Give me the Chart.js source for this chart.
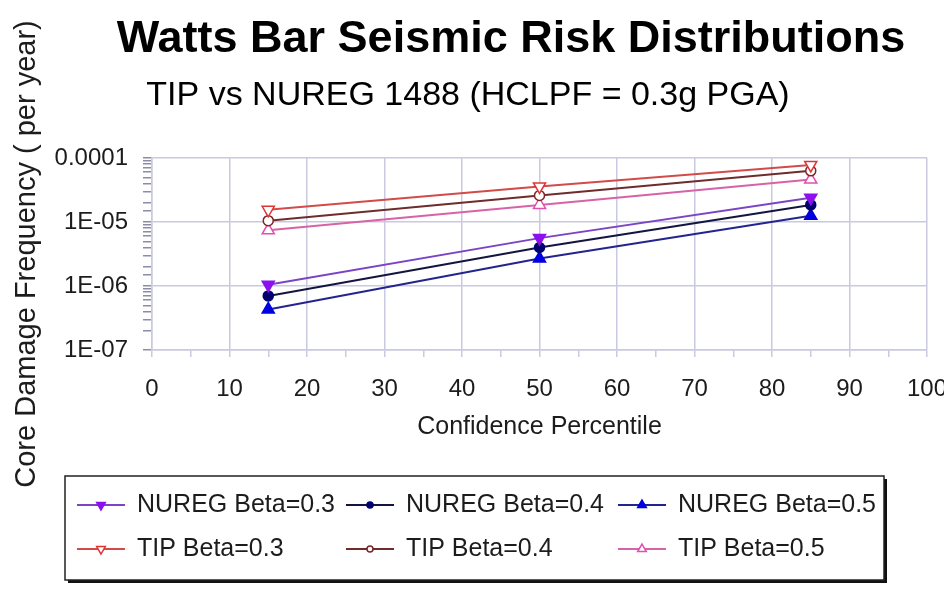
<!DOCTYPE html>
<html>
<head>
<meta charset="utf-8">
<title>Watts Bar Seismic Risk Distributions</title>
<script src="https://cdn.jsdelivr.net/npm/chart.js@4.4.1/dist/chart.umd.min.js"></script>
<style>
    html, body { margin: 0; padding: 0; background: #fff; }
    #wrap { width: 944px; height: 594px; }
</style>
</head>
<body>
<div id="wrap"><canvas id="riskChart" width="944" height="594"></canvas></div>
<script>
/* ==========================================
   Data
========================================== */

const percentiles = [15, 50, 85];

const nuregBeta03 = [1.05e-6, 5.6e-6, 2.4e-5];
const nuregBeta04 = [7.0e-7, 4.0e-6, 1.85e-5];
const nuregBeta05 = [4.3e-7, 2.7e-6, 1.25e-5];

const tipBeta03 = [1.55e-5, 3.6e-5, 7.8e-5];
const tipBeta04 = [1.05e-5, 2.6e-5, 6.3e-5];
const tipBeta05 = [7.4e-6, 1.85e-5, 4.6e-5];

const seriesNames = [
    "NUREG Beta=0.3",
    "NUREG Beta=0.4",
    "NUREG Beta=0.5",
    "TIP Beta=0.3",
    "TIP Beta=0.4",
    "TIP Beta=0.5"
];

const decadeExponents = [-7, -6, -5, -4];
const yTickLabels = ["1E-07", "1E-06", "1E-05", "0.0001"];

const chartTitle = "Watts Bar Seismic Risk Distributions";
const chartSubtitle = "TIP vs NUREG 1488 (HCLPF = 0.3g PGA)";
const xTitle = "Confidence Percentile";
const yTitle = "Core Damage Frequency ( per year)";

/* ==========================================
   Styles
========================================== */

const fontFamily = "'Liberation Sans', Arial, sans-serif";
const textColor = "#1c1c1c";
const gridColor = "#c9c9e2";
const tickColor = "#8c8ca6";

const seriesStyles = [
    { line: "#7b44c4", point: "#8c10ee", fill: "#8c10ee", shape: "triangle", rotation: 180, radius: 7 },
    { line: "#141440", point: "#000070", fill: "#000070", shape: "circle", rotation: 0, radius: 5 },
    { line: "#24248e", point: "#0000e0", fill: "#0000e0", shape: "triangle", rotation: 0, radius: 7 },
    { line: "#d24a4a", point: "#e03434", fill: "#ffffff", shape: "triangle", rotation: 180, radius: 7 },
    { line: "#6e2c2c", point: "#802424", fill: "#ffffff", shape: "circle", rotation: 0, radius: 5 },
    { line: "#d862a8", point: "#e050b0", fill: "#ffffff", shape: "triangle", rotation: 0, radius: 7 }
];

const seriesValues = [nuregBeta03, nuregBeta04, nuregBeta05, tipBeta03, tipBeta04, tipBeta05];

function isDecade(v) {
    const e = Math.log10(v);
    return Math.abs(e - Math.round(e)) < 1e-6;
}

/* ==========================================
   Title + boxed legend
========================================== */

const headerPlugin = {
    id: "header",
    afterDraw(chart) {
        const ctx = chart.ctx;
        ctx.save();
        ctx.fillStyle = "#000";
        ctx.textAlign = "center";
        ctx.textBaseline = "middle";
        ctx.font = "bold 45px " + fontFamily;
        ctx.fillText(chartTitle, 511, 40);
        ctx.font = "34px " + fontFamily;
        ctx.fillText(chartSubtitle, 468, 96);
        ctx.restore();
    }
};

const legendBoxPlugin = {
    id: "legendBox",
    afterDraw(chart) {
        const ctx = chart.ctx;
        const box = { left: 65, top: 476, width: 819, height: 104 };
        const columnX = [77, 346, 618];
        const rowY = [505, 549];

        ctx.save();
        ctx.fillStyle = "#111";
        ctx.fillRect(box.left + 3, box.top + 3, box.width, box.height);
        ctx.fillStyle = "#fff";
        ctx.fillRect(box.left, box.top, box.width, box.height);
        ctx.strokeStyle = "#222";
        ctx.lineWidth = 1.5;
        ctx.strokeRect(box.left, box.top, box.width, box.height);

        chart.data.datasets.forEach((ds, i) => {
            const x = columnX[i % 3];
            const y = rowY[Math.floor(i / 3)];

            ctx.strokeStyle = ds.borderColor;
            ctx.lineWidth = 2;
            ctx.beginPath();
            ctx.moveTo(x, y);
            ctx.lineTo(x + 48, y);
            ctx.stroke();

            ctx.fillStyle = ds.pointBackgroundColor;
            ctx.strokeStyle = ds.pointBorderColor;
            ctx.lineWidth = 1.5;
            Chart.helpers.drawPoint(ctx, {
                pointStyle: ds.pointStyle,
                rotation: ds.pointRotation,
                radius: ds.pointRadius - 2,
                borderWidth: 1.5
            }, x + 24, y);

            ctx.fillStyle = textColor;
            ctx.font = "25px " + fontFamily;
            ctx.textAlign = "left";
            ctx.textBaseline = "middle";
            ctx.fillText(ds.label, x + 60, y);
        });
        ctx.restore();
    }
};

/* ==========================================
   Chart
========================================== */

Chart.defaults.font.family = fontFamily;
Chart.defaults.color = textColor;

const ctx = document.getElementById("riskChart").getContext("2d");

new Chart(ctx, {

    type: "line",

    data: {
        datasets: seriesNames.map((name, i) => ({
            label: name,
            data: percentiles.map((p, j) => ({ x: p, y: seriesValues[i][j] })),
            borderColor: seriesStyles[i].line,
            borderWidth: 2,
            pointStyle: seriesStyles[i].shape,
            pointRotation: seriesStyles[i].rotation,
            pointRadius: seriesStyles[i].radius,
            pointBorderColor: seriesStyles[i].point,
            pointBackgroundColor: seriesStyles[i].fill,
            pointBorderWidth: 1.5,
            tension: 0,
            fill: false
        }))
    },

    options: {

        responsive: false,
        animation: false,

        layout: {
            padding: { top: 158, right: 17, bottom: 149, left: 0 }
        },

        plugins: {
            legend: { display: false },
            title: { display: false },
            tooltip: { enabled: false }
        },

        scales: {

            x: {
                type: "linear",
                min: 0,
                max: 100,
                afterFit: (s) => { s.height = 95; s.paddingLeft = 0; s.paddingRight = 0; },
                border: { color: gridColor, width: 1.5 },
                grid: {
                    color: (c) => (c.tick && c.tick.value % 10 === 0) ? gridColor : "rgba(0,0,0,0)",
                    tickColor: gridColor,
                    tickLength: 7,
                    lineWidth: 1.5
                },
                ticks: {
                    stepSize: 5,
                    autoSkip: false,
                    maxRotation: 0,
                    padding: 18,
                    color: textColor,
                    font: { size: 24 },
                    callback: (v) => (v % 10 === 0 ? String(v) : "")
                },
                title: {
                    display: true,
                    text: xTitle,
                    color: textColor,
                    font: { size: 25 },
                    padding: { top: 0, bottom: 3 }
                }
            },

            y: {
                type: "logarithmic",
                min: 1e-7,
                max: 1e-4,
                afterFit: (s) => { s.width = 152; },
                border: { color: gridColor, width: 1.5 },
                grid: {
                    color: (c) => (c.tick && isDecade(c.tick.value)) ? gridColor : "rgba(0,0,0,0)",
                    tickColor: tickColor,
                    tickLength: 9,
                    lineWidth: 1.5
                },
                ticks: {
                    autoSkip: false,
                    padding: 15,
                    color: textColor,
                    font: { size: 24 },
                    callback: (v) => {
                        if (!isDecade(v)) return "";
                        return yTickLabels[decadeExponents.indexOf(Math.round(Math.log10(v)))];
                    }
                },
                title: {
                    display: true,
                    text: yTitle,
                    color: textColor,
                    font: { size: 29 },
                    padding: { top: 10, bottom: 0 }
                }
            }

        }

    },

    plugins: [headerPlugin, legendBoxPlugin]

});
</script>
</body>
</html>
